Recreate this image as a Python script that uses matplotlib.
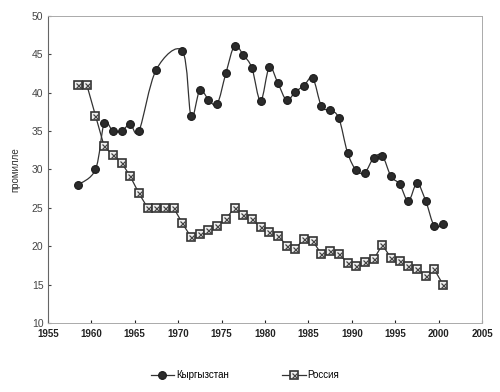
import numpy as np
import matplotlib
matplotlib.use("Agg")
import matplotlib.pyplot as plt
from matplotlib.path import Path
from matplotlib.patches import PathPatch
from matplotlib.lines import Line2D
from matplotlib.legend_handler import HandlerTuple

plt.rcParams['font.family'] = ['Liberation Sans', 'DejaVu Sans']

# Кыргызстан
kg_years = [1958.5, 1960.5, 1961.5, 1962.5, 1963.5, 1964.5, 1965.5, 1967.5, 1970.5,
            1971.5, 1972.5, 1973.5, 1974.5, 1975.5, 1976.5, 1977.5, 1978.5, 1979.5,
            1980.5, 1981.5, 1982.5, 1983.5, 1984.5, 1985.5, 1986.5, 1987.5, 1988.5,
            1989.5, 1990.5, 1991.5, 1992.5, 1993.5, 1994.5, 1995.5, 1996.5, 1997.5,
            1998.5, 1999.5, 2000.5]
kg_vals = [28.0, 30.0, 36.0, 35.0, 35.0, 35.9, 35.0, 43.0, 45.4,
           36.9, 40.3, 39.1, 38.5, 42.5, 46.1, 44.9, 43.2, 38.9,
           43.3, 41.2, 39.0, 40.1, 40.9, 41.9, 38.2, 37.7, 36.7,
           32.2, 29.9, 29.6, 31.5, 31.8, 29.1, 28.1, 25.9, 28.2,
           25.9, 22.6, 22.9]

# Россия
ru_years = [1958.5, 1959.5, 1960.5, 1961.5, 1962.5, 1963.5, 1964.5, 1965.5, 1966.5,
            1967.5, 1968.5, 1969.5, 1970.5, 1971.5, 1972.5, 1973.5, 1974.5, 1975.5,
            1976.5, 1977.5, 1978.5, 1979.5, 1980.5, 1981.5, 1982.5, 1983.5, 1984.5,
            1985.5, 1986.5, 1987.5, 1988.5, 1989.5, 1990.5, 1991.5, 1992.5, 1993.5,
            1994.5, 1995.5, 1996.5, 1997.5, 1998.5, 1999.5, 2000.5]
ru_vals = [41.0, 41.0, 37.0, 33.0, 31.9, 30.9, 29.1, 26.9, 25.0,
           25.0, 25.0, 25.0, 23.0, 21.2, 21.6, 22.1, 22.7, 23.6,
           25.0, 24.1, 23.5, 22.5, 21.9, 21.4, 20.1, 19.7, 21.0,
           20.7, 19.0, 19.4, 19.0, 17.9, 17.5, 18.0, 18.3, 20.2,
           18.5, 18.1, 17.4, 17.1, 16.2, 17.0, 15.0]

x_ticks = list(range(1955, 2006, 5))
y_ticks = list(range(10, 51, 5))


def smooth_path(xs, ys):
    # сглаженная линия как в Excel (кривые Безье)
    p = np.column_stack([xs, ys])
    n = len(p)
    verts = [p[0]]
    codes = [Path.MOVETO]
    for i in range(n - 1):
        p0 = p[i - 1] if i > 0 else p[i]
        p3 = p[i + 2] if i + 2 < n else p[i + 1]
        c1 = p[i] + (p[i + 1] - p0) / 6
        c2 = p[i + 1] - (p3 - p[i]) / 6
        verts += [c1, c2, p[i + 1]]
        codes += [Path.CURVE4] * 3
    return Path(verts, codes)


fig = plt.figure(figsize=(5, 3.92), dpi=100)
ax = fig.add_axes([0.0954, 0.1753, 0.869, 0.7847])

ax.add_patch(PathPatch(smooth_path(kg_years, kg_vals), fill=False,
                       edgecolor='#333333', lw=0.9, zorder=2))
ax.plot(kg_years, kg_vals, ls='none', marker='o', ms=5.6,
        mfc='#2b2b2b', mec='#1a1a1a', mew=0.8, zorder=3)

ax.plot(ru_years, ru_vals, color='#333333', lw=0.9, zorder=2)
ax.plot(ru_years, ru_vals, ls='none', marker='s', ms=5.5,
        mfc='#eeeeee', mec='#333333', mew=1.2, zorder=3)
ax.plot(ru_years, ru_vals, ls='none', marker='x', ms=3.6,
        mec='#444444', mew=0.9, zorder=4)

ax.set_xlim(1955, 2005)
ax.set_ylim(10, 50)
ax.set_xticks(x_ticks)
ax.set_yticks(y_ticks)
ax.tick_params(axis='x', labelsize=7, colors='#222222', direction='in', length=2, pad=4)
ax.tick_params(axis='y', labelsize=7.5, colors='#444444', direction='in', length=2, pad=3)
for lab in ax.get_xticklabels():
    lab.set_fontweight('bold')
ax.set_ylabel('промилле', fontsize=7, color='#333333', labelpad=8)

ax.spines['left'].set_color('#666666')
for s in ['top', 'right', 'bottom']:
    ax.spines[s].set_color('#aaaaaa')
    ax.spines[s].set_linewidth(0.7)

h_kg = Line2D([], [], color='#333333', lw=0.9, marker='o', ms=5.6,
              mfc='#2b2b2b', mec='#1a1a1a', mew=0.8)
h_ru1 = Line2D([], [], color='#333333', lw=0.9, marker='s', ms=5.5,
               mfc='#eeeeee', mec='#333333', mew=1.2)
h_ru2 = Line2D([], [], ls='none', marker='x', ms=3.6, mec='#444444', mew=0.9)
fig.legend([h_kg, (h_ru1, h_ru2)], ['Кыргызстан', 'Россия'],
           handler_map={tuple: HandlerTuple(ndivide=1, pad=0)},
           loc='center', bbox_to_anchor=(0.49, 0.043), ncol=2, frameon=False,
           fontsize=7, columnspacing=5.5, handlelength=2.4, handletextpad=0.2)

fig.savefig('out.png', dpi=100)
